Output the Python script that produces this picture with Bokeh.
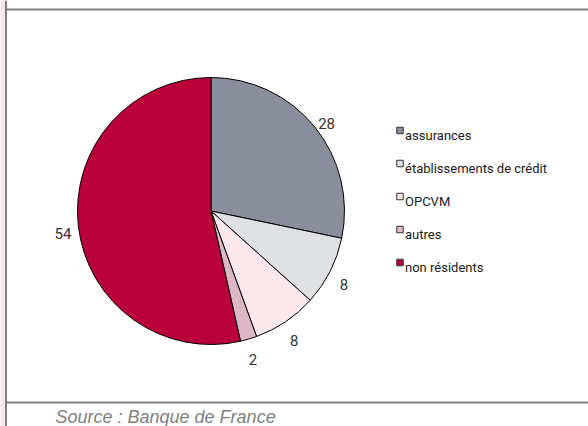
import math
from bokeh.plotting import figure
from bokeh.models import Range1d, ColumnDataSource
from bokeh.core.properties import value
from bokeh.embed import file_html
from bokeh.resources import INLINE

# ---- data ----
categories = ["assurances", "établissements de crédit", "OPCVM", "autres", "non résidents"]
shares = [28.3, 8.4, 7.8, 2.0, 53.6]
labels = ["28", "8", "8", "2", "54"]
colors = ["#898e9a", "#dfe0e4", "#fbe7ec", "#dcb8c6", "#ba003b"]
source_note = "Source : Banque de France"

# ---- layout ----
W, H = 588, 426
CX, CY, R = 210.5, 210.5, 133.5   # pie centre / radius in page pixels
LR = 149                           # label distance
FONT = "Roboto"


def Y(py):
    return H - py


p = figure(width=W, height=H, x_range=Range1d(0, W), y_range=Range1d(0, H),
           output_backend="svg", toolbar_location=None, min_border=0,
           margin=0)
p.axis.visible = False
p.grid.visible = False
p.outline_line_color = None
p.background_fill_color = "white"
p.border_fill_color = "white"

# frame decorations
p.quad(left=0, right=4.5, bottom=0, top=H, fill_color="#fce4ec", line_color=None)
p.quad(left=4.5, right=6.5, bottom=0, top=H, fill_color="#808080", line_color=None)
p.quad(left=6.5, right=W, bottom=Y(10), top=Y(8), fill_color="#808080", line_color=None)
p.quad(left=6.5, right=W, bottom=Y(403), top=Y(401), fill_color="#808080", line_color=None)

# pie
total = sum(shares)
starts, ends, lx, ly = [], [], [], []
cum = 0.0
for s in shares:
    a0 = math.pi / 2 - 2 * math.pi * cum / total
    a1 = math.pi / 2 - 2 * math.pi * (cum + s) / total
    starts.append(a0)
    ends.append(a1)
    th = 2 * math.pi * (cum + s / 2) / total
    lx.append(CX + LR * math.sin(th))
    ly.append(Y(CY - LR * math.cos(th) + 6))
    cum += s

src = ColumnDataSource(dict(cat=categories, start=starts, end=ends, color=colors,
                            lx=lx, ly=ly, lab=labels))
p.wedge(x=CX, y=Y(CY), radius=R, start_angle="start", end_angle="end",
        direction="clock", fill_color="color", line_color="black", line_width=1,
        source=src)
p.text(x="lx", y="ly", text="lab", source=src, text_align="center",
       text_baseline="alphabetic", text_font=value(FONT),
       text_font_size="15px", text_color="#333333")

# legend
leg_y = [130 + 33 * i for i in range(len(categories))]
leg = ColumnDataSource(dict(
    x=[399.5] * len(categories),
    y=[Y(v) for v in leg_y],
    ty=[Y(v + 5) for v in leg_y],
    tx=[404.5] * len(categories),
    cat=categories, color=colors))
p.rect(x="x", y="y", width=6.5, height=6.5, fill_color="color",
       line_color="#333333", line_width=1, source=leg)
p.text(x="tx", y="ty", text="cat", source=leg, text_align="left",
       text_baseline="alphabetic", text_font=value(FONT),
       text_font_size="13px", text_color="#1a1a1a")

# source note
p.text(x=[55], y=[Y(416)], text=[source_note], text_align="left",
       text_baseline="alphabetic", text_font=value("Liberation Sans"),
       text_font_style="italic", text_font_size="18px", text_color="#808080")

open("out.html", "w").write(file_html(p, INLINE))
